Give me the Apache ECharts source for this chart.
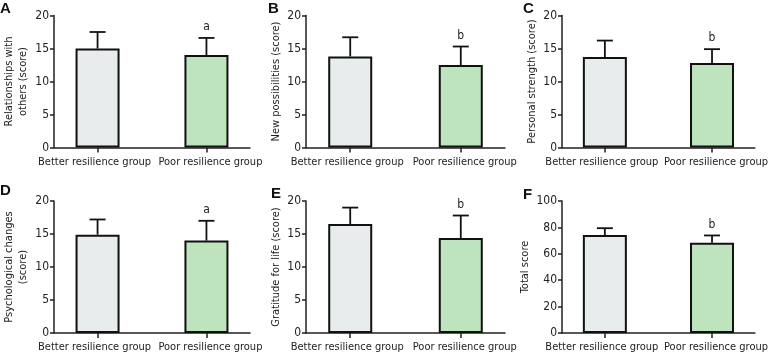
<!DOCTYPE html>
<html>
<head>
<meta charset="utf-8">
<script src="https://cdn.jsdelivr.net/npm/echarts@6/dist/echarts.min.js"></script>
<style>
  html, body { margin: 0; padding: 0; background: #fff; }
  #chart { width: 771px; height: 362px; }
</style>
</head>
<body>
<div id="chart"></div>
<script>
// datos (media y DE por grupo)
const groups = ['Better resilience group', 'Poor resilience group'];
const panelLetters = ['A', 'B', 'C', 'D', 'E', 'F'];
const yNames = [
    'Relationships with\nothers (score)',
    'New possibilities (score)',
    'Personal strength (score)',
    'Psychological changes\n(score)',
    'Gratitude for life (score)',
    'Total score'
];
const betterMean = [15.0, 13.8, 13.7, 14.9, 16.5, 74.2];
const betterSD = [2.5, 2.9, 2.5, 2.3, 2.5, 5.2];
const poorMean = [14.0, 12.5, 12.8, 14.0, 14.4, 68.4];
const poorSD = [2.6, 2.8, 2.1, 3.0, 3.4, 5.5];
const sigMarks = ['a', 'b', 'b', 'a', 'b', 'b'];
const yMax = [20, 20, 20, 20, 20, 100];
const yStep = [5, 5, 5, 5, 5, 20];

const FONT = '"DejaVu Sans Condensed", "Liberation Sans", sans-serif';
const barColors = ['#e8eced', '#bde4bd'];

// posiciones de los paneles
const gridLefts = [54, 306, 562];
const gridWidths = [196, 199, 200];
const gridTops = [15.5, 201];
const gridHeight = 132;

const chart = echarts.init(document.getElementById('chart'));

const grid = [], xAxis = [], yAxis = [], series = [], title = [];
const letterPos = [[0, 1], [268, 1], [523, 1], [0, 183], [271, 186], [523, 187]];

const labelBase = { color: '#222', fontSize: 11, fontFamily: FONT };

for (let i = 0; i < 6; i++) {
    const col = i % 3, row = Math.floor(i / 3);
    grid.push({
        left: gridLefts[col], top: gridTops[row],
        width: gridWidths[col], height: gridHeight
    });
    // eje principal: linea, marcas y etiqueta del primer grupo
    xAxis.push({
        gridIndex: i, type: 'value', min: -0.4, max: 1.4, position: 'bottom',
        splitLine: { show: false },
        axisLine: { show: true, onZero: false, lineStyle: { color: '#222', width: 1.5 } },
        axisTick: { show: true, customValues: [0, 1], length: 5, lineStyle: { color: '#222', width: 1.5 } },
        axisLabel: {
            customValues: [0], margin: 9, hideOverlap: false,
            formatter: () => '{l|' + groups[0] + '}',
            rich: { l: { ...labelBase, padding: [0, 6, 0, 0] } },
            ...labelBase
        }
    });
    // eje auxiliar solo para la etiqueta del segundo grupo
    xAxis.push({
        gridIndex: i, type: 'value', min: -0.4, max: 1.4, position: 'bottom',
        splitLine: { show: false },
        axisLine: { show: false, onZero: false },
        axisTick: { show: false },
        axisLabel: {
            customValues: [1], margin: 9, hideOverlap: false,
            formatter: () => '{r|' + groups[1] + '}',
            rich: { r: { ...labelBase, padding: [0, 0, 0, 8] } },
            ...labelBase
        }
    });
    const twoLine = yNames[i].indexOf('\n') >= 0;
    yAxis.push({
        gridIndex: i, type: 'value', min: 0, max: yMax[i], interval: yStep[i],
        name: yNames[i], nameLocation: 'middle', nameGap: twoLine ? 24 : 22,
        nameTextStyle: { ...labelBase, lineHeight: 14 },
        splitLine: { show: false },
        axisLine: { show: true, onZero: false, lineStyle: { color: '#222', width: 1.5 } },
        axisTick: { show: true, length: 4, lineStyle: { color: '#222', width: 1.5 } },
        axisLabel: { ...labelBase, fontSize: 12, margin: 5 }
    });
    series.push({
        type: 'bar', xAxisIndex: 2 * i, yAxisIndex: i, barWidth: 44,
        data: [
            { value: [0, betterMean[i]], itemStyle: { color: barColors[0] } },
            { value: [1, poorMean[i]], itemStyle: { color: barColors[1] } }
        ],
        itemStyle: { borderColor: '#111', borderWidth: 2 },
        silent: true
    });
    series.push({
        type: 'custom', xAxisIndex: 2 * i, yAxisIndex: i, z: 5, silent: true,
        data: [[0, betterMean[i], betterSD[i]], [1, poorMean[i], poorSD[i]]],
        renderItem: (params, api) => {
            const x = api.value(0), m = api.value(1), sd = api.value(2);
            const p0 = api.coord([x, m]);
            const p1 = api.coord([x, m + sd]);
            const style = { stroke: '#111', lineWidth: 1.8 };
            const children = [
                { type: 'line', shape: { x1: p0[0], y1: p0[1], x2: p1[0], y2: p1[1] }, style },
                { type: 'line', shape: { x1: p1[0] - 8, y1: p1[1], x2: p1[0] + 8, y2: p1[1] }, style }
            ];
            const mark = sigMarks[i];
            if (params.dataIndex === 1 && mark) {
                children.push({
                    type: 'text',
                    style: {
                        text: mark, x: p1[0], y: p1[1] - 5,
                        align: 'center', verticalAlign: 'bottom',
                        fill: '#222', fontSize: 12, fontFamily: FONT
                    }
                });
            }
            return { type: 'group', children };
        }
    });
    title.push({
        text: panelLetters[i], left: letterPos[i][0], top: letterPos[i][1], padding: 0,
        textStyle: { fontSize: 15, fontWeight: 'bold', color: '#111', fontFamily: '"Liberation Sans", sans-serif' }
    });
}

chart.setOption({
    animation: false,
    title, grid, xAxis, yAxis, series
});
</script>
</body>
</html>
